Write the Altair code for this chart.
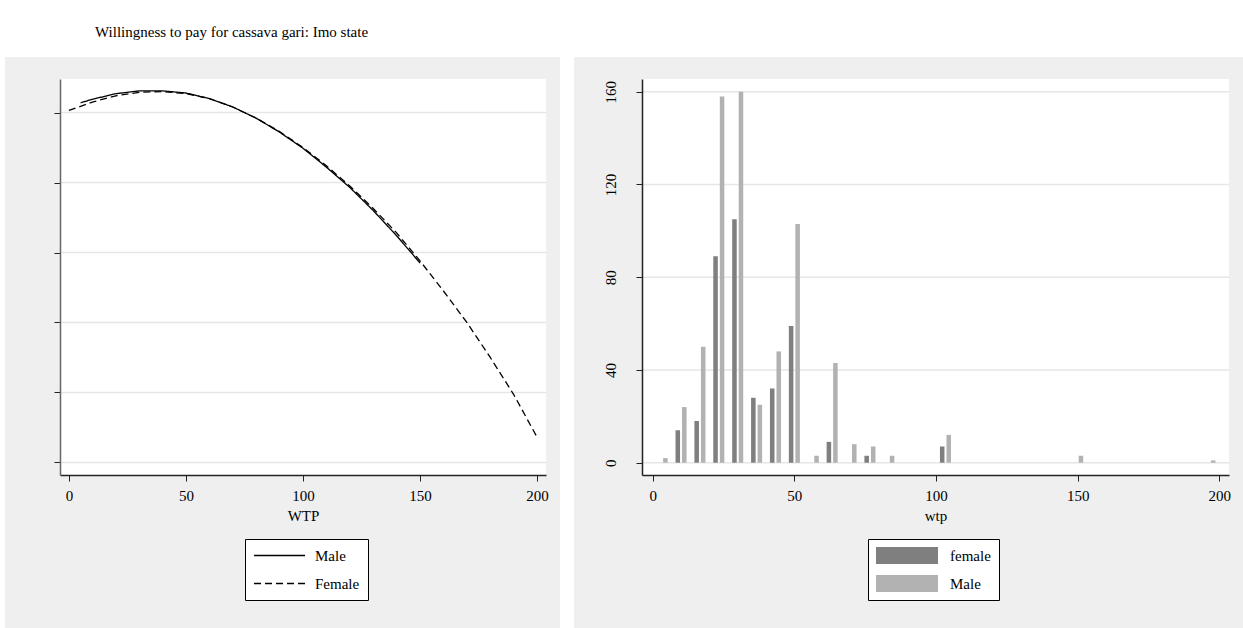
import altair as alt
import pandas as pd

TITLE = "Willingness to pay for cassava gari: Imo state"
FONT = "Liberation Serif"

# ---------------- left panel: fitted WTP curves ----------------
wtp_female = [0, 10, 20, 30, 40, 50, 60, 70, 80, 90, 100, 110, 120, 130, 140,
              150, 160, 170, 180, 190, 200]
fit_female = [5.03, 5.15, 5.24, 5.29, 5.30, 5.27, 5.20, 5.08, 4.92, 4.73, 4.50,
              4.24, 3.95, 3.63, 3.28, 2.88, 2.45, 2.00, 1.50, 0.97, 0.36]
wtp_male = [5, 10, 20, 30, 40, 50, 60, 70, 80, 90, 100, 110, 120, 130, 140, 150]
fit_male = [5.14, 5.19, 5.27, 5.31, 5.31, 5.28, 5.20, 5.08, 4.92, 4.72, 4.49,
            4.22, 3.93, 3.60, 3.24, 2.85]
line_series = ["Male", "Female"]
left_y_ticks = [0, 1, 2, 3, 4, 5]
x_ticks = [0, 50, 100, 150, 200]

# ---------------- right panel: histogram of wtp by sex ----------------
bin_mid = [3.33, 10, 16.67, 23.33, 30, 36.67, 43.33, 50, 56.67, 63.33, 70,
           76.67, 83.33, 103.33, 150, 196.67]
female_count = [0, 14, 18, 89, 105, 28, 32, 59, 0, 9, 0, 3, 0, 7, 0, 0]
male_count = [2, 24, 50, 158, 160, 25, 48, 103, 3, 43, 8, 7, 3, 12, 3, 1]
bar_series = ["female", "Male"]
bar_colors = ["#7f7f7f", "#b2b2b2"]
right_y_ticks = [0, 40, 80, 120, 160]

# ---------------- tables ----------------
df_lines = pd.concat([
    pd.DataFrame({"wtp": wtp_male, "fit": fit_male, "curve": "Male"}),
    pd.DataFrame({"wtp": wtp_female, "fit": fit_female, "curve": "Female"}),
])
df_bars = pd.concat([
    pd.DataFrame({"mid": bin_mid, "n": female_count, "group": "female"}),
    pd.DataFrame({"mid": bin_mid, "n": male_count, "group": "Male"}),
])
df_ly = pd.DataFrame({"fit": left_y_ticks})
df_ry = pd.DataFrame({"n": right_y_ticks})
one = pd.DataFrame({"k": [0]})

PANEL = "#efefef"
GRID = "#e6e6e6"

# ---------------- left chart ----------------
LW, LH = 486, 396
xsc_l = alt.Scale(domain=[-3.8, 203.8], nice=False, zero=False)
ysc_l = alt.Scale(domain=[-0.18, 5.48], nice=False, zero=False)
yax_l = alt.Axis(values=left_y_ticks, labels=False, title=None, grid=False,
                 domainColor="#666", domainWidth=1.5, zindex=1)

bg_l = alt.Chart(one).mark_rect(fill=PANEL).encode(
    x=alt.value(-55), x2=alt.value(500), y=alt.value(-22), y2=alt.value(549))
plot_l = alt.Chart(one).mark_rect(fill="white").encode(
    x=alt.value(0), x2=alt.value(LW), y=alt.value(0), y2=alt.value(LH))
grid_l = alt.Chart(df_ly).mark_rule(color=GRID, strokeWidth=1.5).encode(
    y=alt.Y("fit:Q", scale=ysc_l, axis=yax_l), x=alt.value(0), x2=alt.value(LW))
lines = alt.Chart(df_lines).mark_line(color="black", strokeWidth=1.3).encode(
    x=alt.X("wtp:Q", scale=xsc_l,
            axis=alt.Axis(values=x_ticks, title="WTP", labelPadding=7,
                          titlePadding=5, domainWidth=1.5, zindex=1)),
    y=alt.Y("fit:Q", scale=ysc_l, axis=yax_l),
    strokeDash=alt.StrokeDash(
        "curve:N",
        scale=alt.Scale(domain=line_series, range=[[1, 0], [7, 4]]),
        legend=alt.Legend(title=None, orient="none", legendX=185, legendY=460,
                          fillColor="white", strokeColor="black", padding=8,
                          symbolType="stroke", symbolSize=2601,
                          symbolStrokeWidth=1.3, symbolStrokeColor="black",
                          clipHeight=17, rowPadding=11, labelOffset=9)),
)
left = alt.layer(bg_l, plot_l, grid_l, lines).properties(width=LW, height=LH)

# ---------------- right chart ----------------
RW, RH = 587, 396
xsc_r = alt.Scale(domain=[-3.78, 203.4], nice=False, zero=False)
ysc_r = alt.Scale(domain=[-5.3, 165.5], nice=False, zero=False)
yax_r = alt.Axis(values=right_y_ticks, title=None, grid=False, labelAngle=270,
                 labelAlign="center", labelBaseline="bottom",
                 labelPadding=18, domainWidth=1.5, zindex=1)

bg_r = alt.Chart(one).mark_rect(fill=PANEL).encode(
    x=alt.value(-68), x2=alt.value(601), y=alt.value(-22), y2=alt.value(549))
plot_r = alt.Chart(one).mark_rect(fill="white").encode(
    x=alt.value(0), x2=alt.value(RW), y=alt.value(0), y2=alt.value(RH))
grid_r = alt.Chart(df_ry).mark_rule(color=GRID, strokeWidth=1.5).encode(
    y=alt.Y("n:Q", scale=ysc_r, axis=yax_r), x=alt.value(0), x2=alt.value(RW))
bars = alt.Chart(df_bars).transform_filter("datum.n > 0").transform_calculate(
    off="datum.group == 'female' ? -1.15 : 1.15"
).transform_calculate(
    x0="datum.mid + datum.off - 0.8", x1="datum.mid + datum.off + 0.8"
).mark_rect(strokeWidth=0).encode(
    x=alt.X("x0:Q", scale=xsc_r,
            axis=alt.Axis(values=x_ticks, title="wtp", labelPadding=7,
                          titlePadding=5, domainWidth=1.5, zindex=1)),
    x2="x1:Q",
    y=alt.Y("n:Q", scale=ysc_r, axis=yax_r),
    y2=alt.datum(0),
    fill=alt.Fill(
        "group:N",
        scale=alt.Scale(domain=bar_series, range=bar_colors),
        legend=alt.Legend(title=None, orient="none", legendX=226, legendY=460,
                          fillColor="white", strokeColor="black", padding=8,
                          symbolType="M-1,-0.275L1,-0.275L1,0.275L-1,0.275Z",
                          symbolSize=3844, symbolStrokeWidth=0,
                          clipHeight=17, rowPadding=11, labelOffset=12)),
)
right = alt.layer(bg_r, plot_r, grid_r, bars).properties(width=RW, height=RH)

chart = alt.hconcat(left, right, spacing=14).resolve_scale(
    strokeDash="independent", fill="independent"
).resolve_legend(strokeDash="independent", fill="independent").properties(
    title=alt.TitleParams(TITLE, anchor="start", dx=90, offset=17, font=FONT,
                          fontSize=15, fontWeight="normal", color="black"),
    padding={"left": 5, "top": 25, "right": 0, "bottom": 0},
    background="white",
).configure(font=FONT).configure_view(stroke=None).configure_axis(
    labelFont=FONT, labelFontSize=15, labelColor="black",
    titleFont=FONT, titleFontSize=15, titleFontWeight="normal", titleColor="black",
    domainColor="#222", tickColor="#222", tickSize=6, tickWidth=1,
    grid=False,
).configure_legend(labelFont=FONT, labelFontSize=15, labelColor="black")

chart.save("out.html", embed_options={"renderer": "svg", "actions": False})
